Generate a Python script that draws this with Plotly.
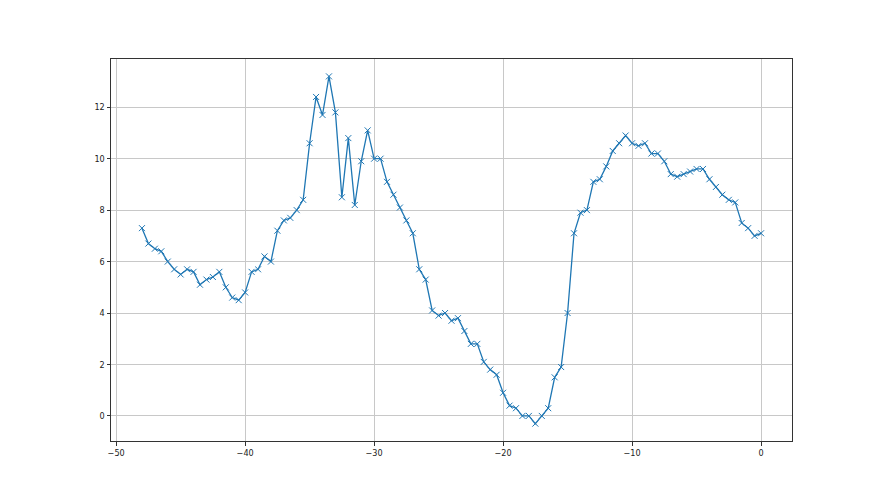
import plotly.graph_objects as go

x_vals = [i * 0.5 - 48 for i in range(97)]
y_vals = [
    7.3, 6.7, 6.5, 6.4, 6.0, 5.7, 5.5, 5.7, 5.6, 5.1,
    5.3, 5.4, 5.6, 5.0, 4.6, 4.5, 4.8, 5.6, 5.7, 6.2,
    6.0, 7.2, 7.6, 7.7, 8.0, 8.4, 10.6, 12.4, 11.7, 13.2,
    11.8, 8.5, 10.8, 8.2, 9.9, 11.1, 10.0, 10.0, 9.1, 8.6,
    8.1, 7.6, 7.1, 5.7, 5.3, 4.1, 3.9, 4.0, 3.7, 3.8,
    3.3, 2.8, 2.8, 2.1, 1.8, 1.6, 0.9, 0.4, 0.3, 0.0,
    0.0, -0.3, 0.0, 0.3, 1.5, 1.9, 4.0, 7.1, 7.9, 8.0,
    9.1, 9.2, 9.7, 10.3, 10.6, 10.9, 10.6, 10.5, 10.6, 10.2,
    10.2, 9.9, 9.4, 9.3, 9.4, 9.5, 9.6, 9.6, 9.2, 8.9,
    8.6, 8.4, 8.3, 7.5, 7.3, 7.0, 7.1,
]
x_ticks = [-50, -40, -30, -20, -10, 0]
y_ticks = [0, 2, 4, 6, 8, 10, 12]

xmin, xmax = min(x_vals), max(x_vals)
ymin, ymax = min(y_vals), max(y_vals)
xpad = (xmax - xmin) * 0.05
ypad = (ymax - ymin) * 0.05

fig = go.Figure(go.Scatter(
    x=x_vals, y=y_vals, mode="lines+markers",
    line=dict(color="#1f77b4", width=1.3),
    marker=dict(symbol="x-thin", size=6, line=dict(color="#1f77b4", width=1)),
))

axis_common = dict(
    showgrid=True, gridcolor="#c8c8c8", gridwidth=0.8,
    showline=True, linecolor="#333333", linewidth=1, mirror=True,
    ticks="outside", ticklen=3.5, tickcolor="#333333", tickwidth=0.8,
    zeroline=False, tickfont=dict(family="DejaVu Sans Condensed, DejaVu Sans", size=9, color="#222222"),
)
fig.update_xaxes(range=[xmin - xpad, xmax + xpad], tickvals=x_ticks,
                 ticktext=["\u2212" + str(-v) if v < 0 else str(v) for v in x_ticks],
                 **axis_common)
fig.update_yaxes(range=[ymin - ypad, ymax + ypad], tickvals=y_ticks, **axis_common)
fig.update_layout(
    width=880, height=495, showlegend=False,
    margin=dict(l=103, r=96, t=51, b=62),
    paper_bgcolor="white", plot_bgcolor="white",
)
fig.write_html("out.html")
